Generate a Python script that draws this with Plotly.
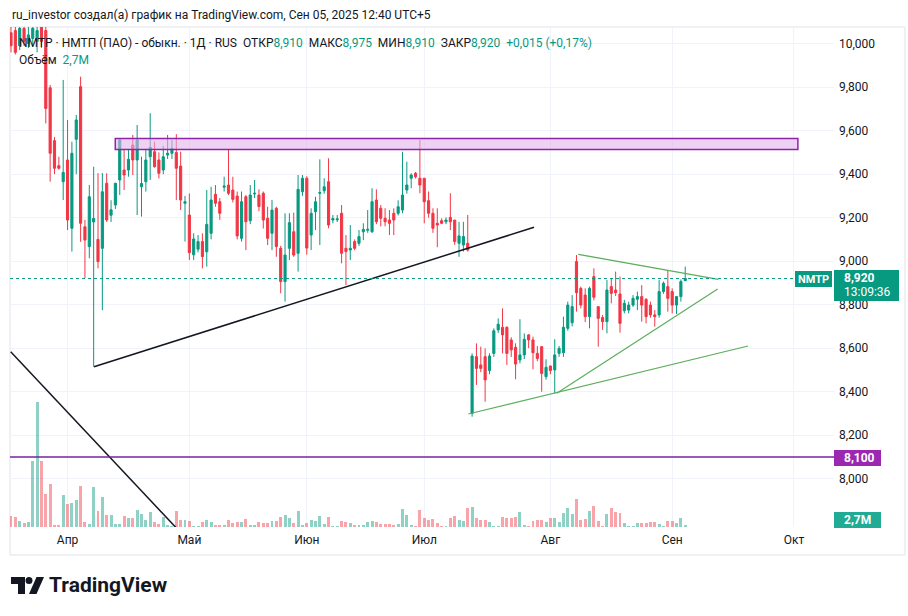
import plotly.graph_objects as go

# ---------------- data (daily bars, index = trading bar number) ----------------
opens = [10050, 10060, 9990, 10070, 10000, 10024, 10010, 10080, 10060, 9797,
         9554, 9439, 9365, 9465, 9151, 9560, 9802, 9158, 9067, 9180,
         9100, 9059, 9358, 9211, 9258, 9373, 9419, 9419, 9534, 9465,
         9342, 9365, 9480, 9503, 9465, 9419, 9488, 9496, 9499, 9437,
         9266, 9212, 9029, 9055, 9090, 9043, 9128, 9307, 9273, 9340,
         9350, 9327, 9299, 9105, 9296, 9186, 9309, 9304, 9312, 9197,
         9128, 9243, 9059, 8906, 9059, 9135, 9036, 9319, 9381, 9120,
         9227, 9312, 9324, 9365, 9189, 9190, 9220, 9059, 9051, 9090,
         9082, 9135, 9142, 9135, 9281, 9243, 9197, 9189, 9220, 9220,
         9235, 9327, 9381, 9404, 9381, 9381, 9278, 9220, 9174, 9186,
         9181, 9201, 9189, 9082, 9074, 9082, 8300, 8561, 8523, 8561,
         8497, 8576, 8684, 8696, 8696, 8638, 8604, 8546, 8569, 8661,
         8638, 8576, 8607, 8469, 8518, 8500, 8576, 8579, 8691, 8717,
         8998, 8875, 8844, 8745, 8929, 8791, 8741, 8722, 8883, 8867,
         8849, 8772, 8775, 8798, 8825, 8837, 8825, 8798, 8753, 8753,
         8860, 8883, 8860, 8798, 8837, 8910]
highs = [10090, 10090, 10090, 10090, 10080, 10090, 10095, 10095, 10095, 9810,
         9570, 9480, 9833, 9649, 9549, 9672, 9848, 9190, 9350, 9434,
         9404, 9405, 9404, 9280, 9360, 9564, 9511, 9511, 9580, 9626,
         9480, 9511, 9680, 9549, 9500, 9530, 9580, 9557, 9584, 9503,
         9300, 9311, 9128, 9120, 9128, 9327, 9342, 9350, 9290, 9388,
         9511, 9388, 9320, 9320, 9304, 9350, 9373, 9330, 9320, 9250,
         9281, 9250, 9070, 9220, 9220, 9223, 9396, 9396, 9390, 9243,
         9296, 9468, 9381, 9473, 9212, 9212, 9258, 9120, 9166, 9100,
         9143, 9174, 9235, 9335, 9330, 9258, 9243, 9235, 9243, 9280,
         9503, 9457, 9404, 9410, 9557, 9381, 9320, 9243, 9243, 9197,
         9201, 9312, 9189, 9181, 9181, 9212, 8576, 8622, 8607, 8599,
         8576, 8691, 8737, 8783, 8700, 8650, 8622, 8733, 8668, 8665,
         8653, 8610, 8610, 8549, 8520, 8641, 8610, 8745, 8814, 8844,
         9028, 8883, 8875, 8883, 8967, 8791, 8753, 8913, 8921, 8952,
         8929, 8822, 8814, 8844, 8860, 8890, 8829, 8814, 8775, 8913,
         8906, 8956, 8875, 8840, 8916, 8975]
lows = [9960, 9950, 9970, 9990, 9980, 9986, 9960, 9980, 9633, 9365,
        9400, 9420, 9281, 9143, 9044, 9400, 9089, 8921, 9013, 8515,
        8967, 8775, 9180, 9180, 9240, 9304, 9327, 9388, 9396, 9212,
        9205, 9320, 9373, 9430, 9380, 9400, 9470, 9470, 9281, 9235,
        9090, 9005, 9005, 9040, 8967, 8975, 9100, 9250, 9190, 9320,
        9304, 9270, 9100, 9090, 9051, 9170, 9290, 9230, 9150, 9074,
        9051, 9020, 8852, 8814, 9005, 9020, 8952, 9300, 9030, 9051,
        9143, 9074, 9310, 9151, 9174, 9180, 8990, 8890, 9005, 9050,
        9070, 9097, 9130, 9130, 9170, 9160, 9160, 9120, 9120, 9210,
        9220, 9310, 9335, 9380, 9312, 9174, 9200, 9130, 9064, 9170,
        9170, 9143, 9075, 9020, 9044, 9044, 8285, 8431, 8490, 8354,
        8480, 8560, 8670, 8576, 8523, 8560, 8457, 8530, 8550, 8600,
        8503, 8540, 8400, 8455, 8480, 8392, 8560, 8560, 8680, 8700,
        8768, 8783, 8720, 8691, 8820, 8607, 8684, 8668, 8806, 8840,
        8671, 8760, 8760, 8790, 8775, 8722, 8714, 8740, 8699, 8740,
        8850, 8768, 8760, 8757, 8814, 8910]
closes = [9990, 9960, 10070, 10010, 10040, 10070, 10060, 10010, 9702, 9496,
          9427, 9427, 9408, 9189, 9496, 9649, 9174, 9097, 9296, 9196,
          8998, 9319, 9189, 9236, 9358, 9557, 9396, 9468, 9465, 9557,
          9357, 9465, 9523, 9434, 9404, 9480, 9496, 9518, 9427, 9281,
          9273, 9039, 9102, 9090, 9021, 9169, 9281, 9266, 9220, 9345,
          9312, 9284, 9116, 9273, 9181, 9304, 9312, 9251, 9189, 9105,
          9235, 9067, 8906, 9028, 9177, 9028, 9330, 9381, 9060, 9220,
          9273, 9315, 9342, 9166, 9196, 9194, 9036, 9044, 9059, 9059,
          9113, 9146, 9146, 9273, 9181, 9197, 9181, 9174, 9189, 9250,
          9304, 9350, 9396, 9388, 9350, 9273, 9220, 9151, 9166, 9174,
          9189, 9181, 9090, 9116, 9113, 9051, 8564, 8507, 8507, 8454,
          8564, 8680, 8710, 8661, 8576, 8592, 8527, 8569, 8641, 8638,
          8579, 8553, 8484, 8512, 8497, 8569, 8599, 8696, 8798, 8791,
          8855, 8798, 8745, 8875, 8834, 8737, 8722, 8867, 8852, 8855,
          8714, 8806, 8798, 8829, 8837, 8798, 8745, 8753, 8745, 8860,
          8898, 8829, 8798, 8837, 8906, 8920]
volumes_m = [12.5, 11.3, 7.4, 4.7, 5.5, 77.2, 146.3, 77.2, 38.6, 50.3,
             2.7, 2.7, 37.4, 26.9, 28.1, 31.6, 48.0, 5.5, 3.5, 46.8,
             18.7, 35.1, 14.0, 14.0, 3.5, 3.5, 12.9, 10.5, 10.5, 19.9,
             15.2, 8.2, 17.6, 5.9, 3.5, 11.7, 2.3, 1.5, 18.7, 8.2,
             7.8, 7.4, 1.5, 1.5, 5.9, 8.2, 5.9, 2.7, 2.0, 2.0,
             8.2, 4.7, 5.9, 5.9, 9.7, 2.0, 2.0, 5.5, 4.7, 4.7,
             7.4, 7.4, 11.3, 14.4, 10.5, 4.7, 19.1, 2.0, 4.7, 8.2,
             6.7, 13.2, 3.9, 11.3, 0.8, 0.8, 7.4, 5.9, 4.7, 2.0,
             2.0, 2.0, 5.5, 6.7, 5.9, 3.9, 3.9, 3.9, 2.0, 3.9,
             21.4, 14.4, 2.3, 1.5, 20.2, 10.2, 8.5, 9.7, 4.7, 1.5,
             1.5, 10.5, 13.2, 8.5, 6.7, 22.6, 23.8, 10.2, 8.5, 7.8,
             5.5, 1.5, 1.5, 12.1, 10.5, 10.5, 11.7, 17.9, 2.7, 0.8,
             6.7, 8.5, 8.5, 5.5, 10.2, 10.5, 5.5, 16.7, 22.2, 15.6,
             32.8, 8.5, 9.7, 18.4, 24.9, 6.7, 1.5, 15.6, 22.2, 17.6,
             16.4, 4.7, 1.5, 1.5, 4.7, 4.7, 4.7, 6.2, 5.9, 3.2,
             1.5, 7.0, 7.0, 4.7, 10.5, 2.7]

month_labels = ["Апр", "Май", "Июн", "Июл", "Авг", "Сен", "Окт"]
month_first_bar = [13, 41, 68, 95, 124, 152, 180]
price_ticks = [8000, 8200, 8400, 8600, 8800, 9000, 9200, 9400, 9600, 9800, 10000]

# drawings (bar index, price)
resistance_zone = (23.97, 9513, 180.9, 9564)
support_line = (19.08, 8515, 120.23, 9155.6)
falling_line = (-0.07, 8583.8, 37.86, 7776.6)
green_lines = [(105.13, 8297.4, 169.43, 8609.9),
               (125.45, 8392.6, 162.46, 8872.0),
               (130.41, 9031.5, 162.6, 8916.6)]
level_line = 8100
last_price = 8920

UP, DOWN = "#089981", "#F23645"
UPV, DOWNV = "rgba(8,153,129,0.45)", "rgba(242,54,69,0.45)"
TXT = "#131722"
FONT = "Roboto, Arial, sans-serif"
NB = "\u00a0"

# ---------------- geometry ----------------
W, H = 908, 616
PL, PR, PT, PB = 10, 834, 27, 527
PW, PH = PR - PL, PB - PT
X_RANGE = [-0.23, 189.2]
Y_RANGE = [7778.0, 10076.3]


def px(x):
    return (x - PL) / PW


def py(y):
    return (PB - y) / PH


n = len(opens)
xs = list(range(n))
vol_colors = [UPV if c >= o else DOWNV for o, c in zip(opens, closes)]

fig = go.Figure()
fig.add_trace(go.Candlestick(
    x=xs, open=opens, high=highs, low=lows, close=closes,
    increasing=dict(line=dict(color=UP, width=1), fillcolor=UP),
    decreasing=dict(line=dict(color=DOWN, width=1), fillcolor=DOWN),
    whiskerwidth=0, showlegend=False, hoverinfo="skip", yaxis="y"))
fig.add_trace(go.Bar(x=xs, y=volumes_m, marker=dict(color=vol_colors, line=dict(width=0)),
                     width=0.68, yaxis="y2", showlegend=False, hoverinfo="skip"))

shapes = []
# chart frame
shapes.append(dict(type="rect", xref="paper", yref="paper", x0=px(10), x1=px(905), y0=py(27), y1=py(555),
                   line=dict(color="#e0e3eb", width=1), fillcolor="rgba(0,0,0,0)", layer="below"))
# resistance zone
x0, y0, x1, y1 = resistance_zone
shapes.append(dict(type="rect", xref="x", yref="y", x0=x0, x1=x1, y0=y0, y1=y1,
                   line=dict(color="#8e24aa", width=1.5), fillcolor="rgba(225,180,235,0.6)"))
# lines
for (a, b, c, d), col, w in [(support_line, "#131722", 1.5), (falling_line, "#131722", 1.5)] + \
        [(g, "#5cae5c", 1.2) for g in green_lines]:
    shapes.append(dict(type="line", xref="x", yref="y", x0=a, y0=b, x1=c, y1=d,
                       line=dict(color=col, width=w)))
# horizontal level
shapes.append(dict(type="line", xref="paper", yref="y", x0=0, x1=1, y0=level_line, y1=level_line,
                   line=dict(color="#7b1fa2", width=1.5)))
# last price dotted line
shapes.append(dict(type="line", xref="paper", yref="y", x0=0, x1=px(795), y0=last_price, y1=last_price,
                   line=dict(color=UP, width=1, dash="dot")))


def box(x0, x1, y0, y1, color):
    shapes.append(dict(type="rect", xref="paper", yref="paper", x0=px(x0), x1=px(x1),
                       y0=py(y1), y1=py(y0), line=dict(width=0), fillcolor=color))


box(795, 832, 271, 287, UP)
box(834, 899, 270, 301, UP)
box(834, 881, 450, 466, "#9c27b0")
box(834, 881, 512, 528, "#22ab94")

# TradingView logo glyph


def path(points):
    return "M " + " L ".join(f"{px(a):.5f},{py(b):.5f}" for a, b in points) + " Z"


shapes.append(dict(type="path", xref="paper", yref="paper",
                   path=path([(11, 577), (25, 577), (25, 594), (18, 594), (18, 584), (11, 584)]),
                   fillcolor=TXT, line=dict(width=0)))
shapes.append(dict(type="circle", xref="paper", yref="paper", x0=px(25.5), x1=px(32.5), y0=py(584), y1=py(577),
                   fillcolor=TXT, line=dict(width=0)))
shapes.append(dict(type="path", xref="paper", yref="paper",
                   path=path([(29, 594), (36.5, 577), (44, 577), (36.5, 594)]),
                   fillcolor=TXT, line=dict(width=0)))

ann = []


def text(x, y, s, color=TXT, size=12, anchor="left", bold=False, family=FONT):
    if bold:
        s = f"<b>{s}</b>"
    ann.append(dict(xref="paper", yref="paper", x=px(x), y=py(y), text=s, showarrow=False,
                    xanchor=anchor, yanchor="middle", font=dict(size=size, color=color, family=family)))


def g(s):
    return f"<span style='color:{UP}'>{s}</span>"


text(10, 15, "ru_investor создал(а) график на TradingView.com, Сен 05, 2025 12:40 UTC+5", size=12)
legend_line = ("NMTP · НМТП (ПАО) - обыкн. · 1Д · RUS" + NB * 2 +
               "ОТКР" + g("8,910") + NB * 2 + "МАКС" + g("8,975") + NB * 2 +
               "МИН" + g("8,910") + NB * 2 + "ЗАКР" + g("8,920") + NB * 2 + g("+0,015 (+0,17%)"))
text(17, 43, legend_line, size=12)
text(17, 60, "Объём" + NB * 2 + g("2,7M"), size=12)

text(813.5, 279, "NMTP", color="white", size=11, anchor="center", bold=True)
text(842, 278, "8,920", color="white", size=12, bold=True)
text(842, 292, "13:09:36", color="white", size=12)
text(842, 458, "8,100", color="white", size=12, bold=True)
text(842, 520, "2,7M", color="white", size=12, bold=True)

text(47, 585, "TradingView", size=21, bold=True)

fig.update_layout(
    width=W, height=H, margin=dict(l=PL, r=W - PR, t=PT, b=H - PB),
    paper_bgcolor="white", plot_bgcolor="white",
    shapes=shapes, annotations=ann, showlegend=False,
    xaxis=dict(range=X_RANGE, tickmode="array", tickvals=month_first_bar, ticktext=month_labels,
               showgrid=True, gridcolor="#f0f3fa", gridwidth=1, zeroline=False, showline=False,
               ticks="", ticklabelstandoff=4, tickfont=dict(size=12, color=TXT, family=FONT),
               rangeslider=dict(visible=False), fixedrange=True),
    yaxis=dict(range=Y_RANGE, side="right", tickmode="array", tickvals=price_ticks,
               ticktext=[f"{v:,}" for v in price_ticks], showgrid=True, gridcolor="#f0f3fa",
               zeroline=False, showline=False, ticks="", ticklabelstandoff=4,
               tickfont=dict(size=12, color=TXT, family=FONT), fixedrange=True),
    yaxis2=dict(range=[0, 586], overlaying="y", visible=False, fixedrange=True),
    bargap=0,
)

fig.write_html("out.html")
